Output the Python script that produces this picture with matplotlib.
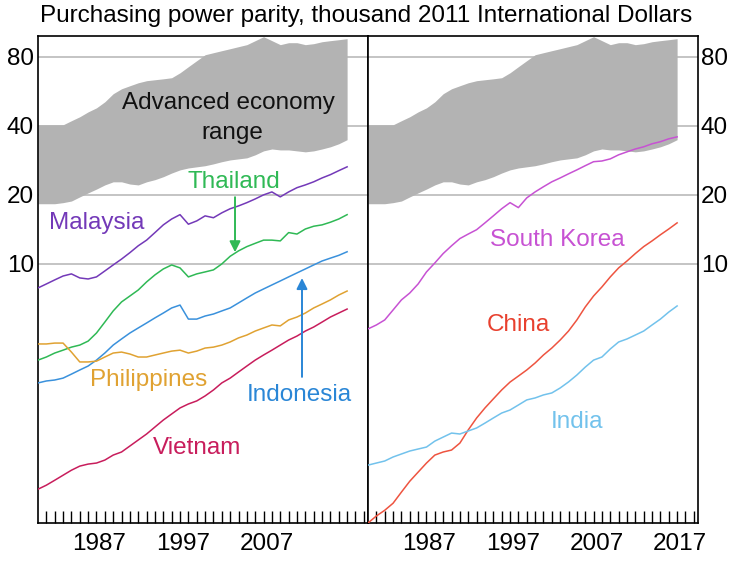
import numpy as np
import matplotlib.pyplot as plt
from matplotlib.ticker import FixedLocator, NullFormatter, NullLocator
import matplotlib.transforms as mtransforms

plt.rcParams['font.family'] = ['Liberation Sans', 'DejaVu Sans']

years = np.arange(1980, 2018)

# advanced economy range, thousand 2011 PPP dollars
adv_high = [40.4, 40.4, 40.4, 40.4, 42.1, 43.8, 46.0, 47.9, 50.9, 55.2,
            58.0, 59.8, 61.6, 62.9, 63.5, 64.1, 64.8, 68.1, 72.4, 76.9,
            81.6, 83.3, 85.0, 86.7, 88.5, 90.3, 94.0, 97.8, 94.0, 90.3,
            92.1, 92.1, 90.3, 91.2, 93.0, 94.0, 94.9, 95.9]
adv_low = [18.3, 18.3, 18.3, 18.5, 18.8, 19.6, 20.4, 21.2, 22.1, 22.8,
           22.8, 22.3, 22.1, 22.8, 23.3, 24.0, 24.9, 25.7, 26.2, 26.5,
           26.8, 27.3, 27.9, 28.4, 28.7, 29.0, 29.9, 31.1, 31.7, 31.4,
           31.4, 31.1, 30.8, 31.1, 31.7, 32.4, 33.4, 34.8]

malaysia = [7.86, 8.18, 8.52, 8.86, 9.05, 8.69, 8.60, 8.78, 9.32, 9.90,
            10.5, 11.2, 12.0, 12.7, 13.7, 14.8, 15.7, 16.4, 14.9, 15.4,
            16.2, 15.9, 16.7, 17.4, 17.9, 18.5, 19.2, 20.0, 20.6, 19.6,
            20.6, 21.5, 22.1, 22.8, 23.7, 24.5, 25.5, 26.5]
thailand = [3.81, 3.93, 4.09, 4.21, 4.34, 4.43, 4.61, 5.00, 5.58, 6.24,
            6.83, 7.25, 7.70, 8.35, 8.96, 9.51, 9.90, 9.61, 8.78, 9.05,
            9.23, 9.42, 10.0, 10.8, 11.4, 11.9, 12.3, 12.7, 12.7, 12.6,
            13.7, 13.5, 14.2, 14.6, 14.8, 15.2, 15.7, 16.4]
indonesia = [3.03, 3.09, 3.12, 3.18, 3.31, 3.45, 3.59, 3.81, 4.09, 4.43,
             4.71, 5.00, 5.26, 5.53, 5.82, 6.11, 6.43, 6.62, 5.75, 5.75,
             5.93, 6.05, 6.24, 6.43, 6.76, 7.11, 7.47, 7.78, 8.10, 8.43,
             8.78, 9.14, 9.51, 9.90, 10.3, 10.6, 10.9, 11.3]
philippines = [4.48, 4.48, 4.52, 4.52, 4.13, 3.74, 3.74, 3.77, 3.93, 4.09,
               4.13, 4.05, 3.93, 3.93, 4.01, 4.09, 4.17, 4.21, 4.09, 4.17,
               4.30, 4.34, 4.43, 4.57, 4.76, 4.90, 5.10, 5.26, 5.42, 5.37,
               5.70, 5.87, 6.11, 6.43, 6.69, 6.97, 7.32, 7.62]
vietnam = [1.043, 1.086, 1.141, 1.200, 1.262, 1.315, 1.342, 1.356, 1.397, 1.469,
           1.515, 1.609, 1.709, 1.815, 1.947, 2.088, 2.219, 2.357, 2.453, 2.529,
           2.659, 2.823, 3.03, 3.18, 3.38, 3.59, 3.81, 4.01, 4.21, 4.43,
           4.66, 4.85, 5.10, 5.31, 5.58, 5.87, 6.11, 6.36]

south_korea = [5.21, 5.42, 5.70, 6.30, 6.97, 7.47, 8.18, 9.23, 10.1, 11.1,
               12.0, 12.9, 13.5, 14.1, 15.1, 16.2, 17.4, 18.5, 17.6, 19.4,
               20.6, 21.7, 22.8, 23.7, 24.7, 25.7, 26.8, 27.9, 28.1, 28.7,
               29.9, 30.8, 31.7, 32.4, 33.4, 34.1, 35.1, 35.8]
china = [0.743, 0.797, 0.844, 0.906, 1.013, 1.130, 1.238, 1.356, 1.469, 1.515,
         1.545, 1.657, 1.891, 2.131, 2.357, 2.581, 2.823, 3.056, 3.246, 3.45,
         3.70, 4.01, 4.30, 4.66, 5.10, 5.70, 6.49, 7.25, 7.94, 8.78,
         9.61, 10.3, 11.1, 11.9, 12.6, 13.4, 14.2, 15.1]
india = [1.328, 1.356, 1.384, 1.441, 1.485, 1.530, 1.561, 1.592, 1.690, 1.760,
         1.832, 1.815, 1.871, 1.928, 2.025, 2.131, 2.240, 2.309, 2.428, 2.555,
         2.606, 2.686, 2.74, 2.88, 3.06, 3.28, 3.55, 3.81, 3.93, 4.26,
         4.57, 4.71, 4.90, 5.10, 5.42, 5.75, 6.17, 6.56]

left_series = [
    ('Malaysia', malaysia, '#7339b8'),
    ('Thailand', thailand, '#2fb955'),
    ('Indonesia', indonesia, '#3a91dc'),
    ('Philippines', philippines, '#e0a232'),
    ('Vietnam', vietnam, '#c81d5c'),
]
right_series = [
    ('South Korea', south_korea, '#c752d3'),
    ('China', china, '#ee5440'),
    ('India', india, '#72c2ec'),
]

y_ticks = [10, 20, 40, 80]

fig = plt.figure(figsize=(7.3, 5.63), dpi=100)
ax1 = fig.add_axes([38 / 730, 40 / 563, 330 / 730, 487 / 563])
ax2 = fig.add_axes([368 / 730, 40 / 563, 330 / 730, 487 / 563])

offset = mtransforms.ScaledTranslation(3 / 100, 0, fig.dpi_scale_trans)
fs = 17.5

for ax, series, labels in [(ax1, left_series, [1987, 1997, 2007]),
                           (ax2, right_series, [1987, 1997, 2007, 2017])]:
    ax.set_yscale('log')
    ax.set_ylim(0.743, 98.5)
    ax.set_xlim(1980, 2019.5)
    for t in y_ticks:
        ax.axhline(t, color='#b4b4b4', lw=1.1, zorder=0)
    ax.fill_between(years, adv_low, adv_high, color='#b3b3b3', lw=0, zorder=1)
    for name, vals, col in series:
        ax.plot(years, vals, color=col, lw=1.1, zorder=3)

    ax.yaxis.set_major_locator(FixedLocator(y_ticks))
    ax.yaxis.set_minor_locator(NullLocator())
    ax.yaxis.set_minor_formatter(NullFormatter())
    ax.set_yticklabels([str(t) for t in y_ticks])
    ax.tick_params(axis='y', length=0, labelsize=fs, pad=3)

    ax.set_xticks(labels)
    ax.set_xticks(np.arange(1981, 2020), minor=True)
    ax.tick_params(axis='x', which='both', direction='in', length=9,
                   width=1, labelsize=fs, pad=7)
    for lbl in ax.get_xticklabels():
        lbl.set_transform(lbl.get_transform() + offset)
    for sp in ax.spines.values():
        sp.set_linewidth(1.2)

ax2.yaxis.tick_right()
ax2.tick_params(axis='y', length=0, labelsize=fs, pad=2)

# text labels
ax1.text(0.576, 0.862, 'Advanced economy', transform=ax1.transAxes,
         ha='center', va='center', fontsize=fs, color='#111111', zorder=4)
ax1.text(0.588, 0.801, 'range', transform=ax1.transAxes,
         ha='center', va='center', fontsize=fs, color='#111111', zorder=4)
ax1.text(0.594, 0.700, 'Thailand', transform=ax1.transAxes,
         ha='center', va='center', fontsize=fs, color='#2fb955')
ax1.annotate('', xy=(0.597, 0.556), xytext=(0.597, 0.669),
             xycoords='axes fraction',
             arrowprops=dict(arrowstyle='-|>', color='#2fb955', lw=1.4,
                             mutation_scale=16, shrinkA=0, shrinkB=0))
ax1.text(0.179, 0.616, 'Malaysia', transform=ax1.transAxes,
         ha='center', va='center', fontsize=fs, color='#7339b8')
ax1.text(0.336, 0.294, 'Philippines', transform=ax1.transAxes,
         ha='center', va='center', fontsize=fs, color='#e0a232')
ax1.text(0.791, 0.263, 'Indonesia', transform=ax1.transAxes,
         ha='center', va='center', fontsize=fs, color='#2a86d6')
ax1.annotate('', xy=(0.800, 0.503), xytext=(0.800, 0.300),
             xycoords='axes fraction',
             arrowprops=dict(arrowstyle='-|>', color='#2a86d6', lw=1.4,
                             mutation_scale=16, shrinkA=0, shrinkB=0))
ax1.text(0.482, 0.154, 'Vietnam', transform=ax1.transAxes,
         ha='center', va='center', fontsize=fs, color='#c81d5c')

ax2.text(0.573, 0.581, 'South Korea', transform=ax2.transAxes,
         ha='center', va='center', fontsize=fs, color='#c752d3')
ax2.text(0.455, 0.407, 'China', transform=ax2.transAxes,
         ha='center', va='center', fontsize=fs, color='#e8402e')
ax2.text(0.633, 0.207, 'India', transform=ax2.transAxes,
         ha='center', va='center', fontsize=fs, color='#72c2ec')

fig.text(0.502, 0.971, 'Purchasing power parity, thousand 2011 International Dollars',
         ha='center', va='center', fontsize=17.5)

fig.savefig('out.png', dpi=100)
